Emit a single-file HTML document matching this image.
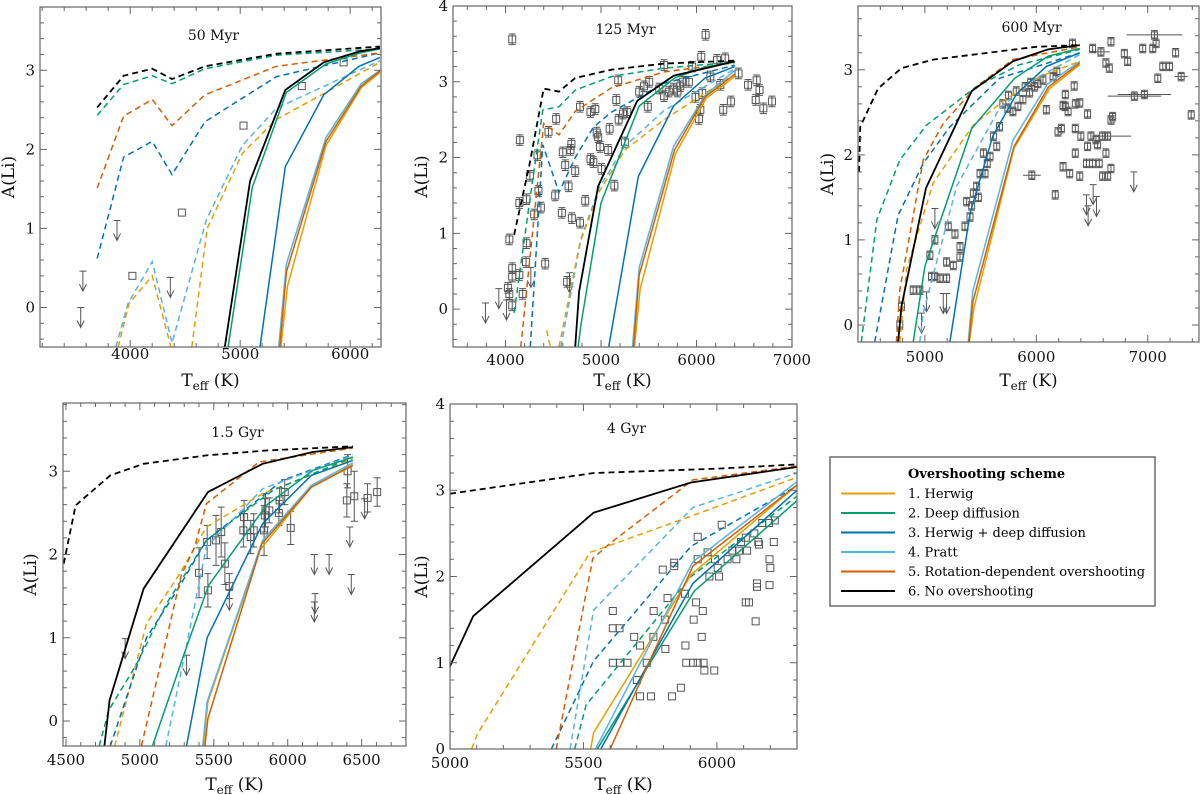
<!DOCTYPE html>
<html><head><meta charset="utf-8"><style>
html,body{margin:0;padding:0;background:#fff;}
svg{display:block;font-family:"DejaVu Serif","Liberation Serif",serif;}
</style></head><body>
<svg id="fig" width="1200" height="794" viewBox="0 0 1200 794" xmlns="http://www.w3.org/2000/svg">
<g id="panels"></g>
<g id="legend">
<rect x="830" y="457" width="325" height="149" fill="#fff" stroke="#555" stroke-width="1.3"/>
<text x="908" y="478" font-size="13" font-weight="bold">Overshooting scheme</text>
<g><line x1="841" y1="493.5" x2="895" y2="493.5" stroke="#E69F00" stroke-width="2"/><text x="908" y="498" font-size="13">1. Herwig</text></g>
<g><line x1="841" y1="513" x2="895" y2="513" stroke="#009E73" stroke-width="2"/><text x="908" y="517.5" font-size="13">2. Deep diffusion</text></g>
<g><line x1="841" y1="532.5" x2="895" y2="532.5" stroke="#0072B2" stroke-width="2"/><text x="908" y="537" font-size="13">3. Herwig + deep diffusion</text></g>
<g><line x1="841" y1="552" x2="895" y2="552" stroke="#56B4E9" stroke-width="2"/><text x="908" y="556.5" font-size="13">4. Pratt</text></g>
<g><line x1="841" y1="571.5" x2="895" y2="571.5" stroke="#D55E00" stroke-width="2"/><text x="908" y="576" font-size="13">5. Rotation-dependent overshooting</text></g>
<g><line x1="841" y1="591" x2="895" y2="591" stroke="#000" stroke-width="2"/><text x="908" y="595.5" font-size="13">6. No overshooting</text></g>
</g>
</svg>
<script>
const MODEL_NAMES = ['herwig','deep-diffusion','herwig-deep-diffusion','pratt','rotation-dependent','no-overshooting'];

// ---------- 50 Myr ----------
const P1_D1 = [[3890,-0.5],[3990,0.05],[4200,0.4],[4370,-0.5]];
const P1_D1b = [[4560,-0.5],[4700,1.0],[5020,1.95],[5330,2.38],[5780,2.72],[6270,3.1]];
const P1_D2 = [[3700,2.43],[3940,2.82],[4200,2.93],[4380,2.83],[4680,3.02],[5330,3.19],[6270,3.27]];
const P1_D3 = [[3700,0.62],[3940,1.9],[4200,2.1],[4380,1.68],[4680,2.35],[5330,2.92],[6270,3.22]];
const P1_D4 = [[3870,-0.5],[3980,0.05],[4200,0.58],[4380,-0.45],[4690,1.1],[5020,2.05],[5330,2.52],[6000,2.95],[6270,3.12]];
const P1_D5 = [[3700,1.51],[3940,2.42],[4200,2.63],[4380,2.3],[4680,2.69],[5330,3.05],[6270,3.22]];
const P1_D6 = [[3700,2.53],[3940,2.93],[4200,3.02],[4380,2.89],[4680,3.05],[5330,3.21],[6270,3.3]];
const P1_S1 = [[5370,-0.5],[5430,0.27],[5780,2.05],[6100,2.78],[6270,2.97]];
const P1_S2 = [[4890,-0.5],[5110,1.52],[5420,2.72],[5780,3.08],[6090,3.22],[6270,3.27]];
const P1_S3 = [[5180,-0.5],[5410,1.78],[5760,2.69],[6080,3.05],[6270,3.16]];
const P1_S4 = [[5350,-0.5],[5420,0.55],[5780,2.15],[6100,2.83],[6270,3.0]];
const P1_S5 = [[5360,-0.5],[5420,0.45],[5780,2.1],[6100,2.8],[6270,2.99]];
const P1_S6 = [[4860,-0.5],[5090,1.6],[5410,2.75],[5760,3.1],[6090,3.24],[6270,3.28]];
const P1_OBS = [[4020,0.4],[4470,1.2],[5030,2.3],[5560,2.8],[5940,3.1]];
const P1_LIM = [[3880,1.1],[3570,0.46],[3550,0.0],[4365,0.38]];

// ---------- 125 Myr ----------
const P2_D1 = [[4430,-0.28],[4470,-0.5]];
const P2_D1b = [[4560,-0.5],[4780,0.88],[4980,1.55],[5250,2.1],[5660,2.5],[6400,3.1]];
const P2_D2 = [[4090,-0.05],[4250,1.4],[4390,2.63],[4560,2.67],[4730,2.89],[5110,3.07],[5660,3.18],[6400,3.26]];
const P2_D3 = [[4260,-0.5],[4390,2.17],[4560,1.54],[4730,2.0],[4920,2.4],[5110,2.6],[5660,2.98],[6400,3.22]];
const P2_D4 = [[4580,-0.5],[4790,0.93],[4980,1.6],[5250,2.15],[5660,2.62],[6400,3.17]];
const P2_D5 = [[4160,-0.5],[4400,2.45],[4560,2.3],[4730,2.61],[5110,2.92],[5660,3.13],[6400,3.25]];
const P2_D6 = [[4090,0.98],[4250,1.9],[4400,2.91],[4560,2.87],[4730,3.05],[5110,3.16],[5660,3.24],[6400,3.28]];
const P2_S1 = [[5350,-0.5],[5410,0.27],[5780,2.05],[6100,2.78],[6400,3.07]];
const P2_S2 = [[4760,-0.5],[4790,-0.2],[5000,1.4],[5400,2.68],[5770,3.05],[6100,3.2],[6400,3.26]];
const P2_S3 = [[5080,-0.5],[5390,1.75],[5760,2.68],[6090,3.05],[6400,3.2]];
const P2_S4 = [[5330,-0.5],[5400,0.55],[5760,2.15],[6090,2.82],[6400,3.15]];
const P2_S5 = [[5340,-0.5],[5400,0.45],[5770,2.1],[6090,2.8],[6400,3.1]];
const P2_S6 = [[4730,-0.5],[4770,0.23],[4970,1.62],[5380,2.75],[5760,3.08],[6170,3.2],[6400,3.27]];
const P2_OBS = [[4070,3.56],[4150,2.23],[4040,0.92],[4070,0.54],[4070,0.43],[4145,0.45],[4025,0.28],[4040,0.2],[4070,0.05],[4180,0.2],[4215,0.62],[4220,0.87],[4145,1.4],[4220,1.45],[4300,1.25],[4370,1.34],[4255,1.76],[4335,2.03],[4345,1.56],[4415,0.6],[4450,2.34],[4530,2.51],[4520,1.5],[4590,1.27],[4600,2.07],[4625,1.9],[4680,2.1],[4690,2.18],[4660,1.62],[4695,1.2],[4780,1.14],[4780,2.67],[4730,1.82],[4835,1.43],[4890,2.6],[4940,2.64],[4890,1.98],[4920,1.94],[4955,2.33],[4970,2.27],[4990,2.14],[5005,1.85],[5075,2.1],[5090,2.38],[5140,1.63],[5160,2.76],[5180,3.02],[5185,2.5],[5230,2.58],[5275,2.6],[5250,2.2],[5400,2.87],[5450,2.94],[5490,2.67],[5505,3.0],[5610,2.91],[5660,3.22],[5660,2.81],[5710,2.87],[5760,2.91],[5800,2.87],[5830,2.94],[5860,3.0],[5920,3.0],[5955,3.2],[5990,2.8],[6025,2.51],[6040,2.63],[6050,3.33],[6095,3.62],[6060,2.85],[6145,3.07],[6215,3.29],[6250,2.96],[6280,2.63],[6300,3.31],[6360,2.74],[6440,3.11],[6540,2.96],[6630,3.02],[6620,2.76],[6660,2.89],[6700,2.65],[6790,2.74],[4645,0.36]];
const P2_LIM = [[3790,0.08],[3930,0.27],[4010,0.12],[4265,0.55],[4670,0.48]];

// ---------- 600 Myr ----------
const P3_D1 = [[4775,-0.2],[4835,0.65],[5075,1.67],[5435,2.35],[5700,2.63],[6030,2.92],[6390,3.1]];
const P3_D2 = [[4430,-0.2],[4570,1.24],[4775,1.94],[5015,2.35],[5460,2.8],[5850,3.06],[6390,3.24]];
const P3_D3 = [[4550,-0.2],[4760,1.29],[4985,1.9],[5225,2.33],[5670,2.9],[6390,3.2]];
const P3_D4 = [[4955,-0.2],[4985,0.14],[5285,1.63],[5670,2.55],[5970,2.88],[6390,3.18]];
const P3_D5 = [[4745,-0.2],[4775,0.41],[4985,1.94],[5165,2.37],[5460,2.8],[5790,3.12],[6390,3.27]];
const P3_D6 = [[4410,1.8],[4420,2.33],[4580,2.78],[4790,3.02],[5075,3.12],[6000,3.27],[6390,3.29]];
const P3_S1 = [[5400,-0.2],[5440,0.2],[5800,2.08],[6120,2.78],[6390,3.06]];
const P3_S2 = [[4895,-0.2],[5000,0.69],[5420,2.31],[5805,2.9],[6105,3.16],[6390,3.25]];
const P3_S3 = [[5225,-0.2],[5405,1.31],[5610,2.22],[5820,2.71],[6090,3.04],[6390,3.2]];
const P3_S4 = [[5390,-0.2],[5430,0.4],[5790,2.17],[6100,2.83],[6390,3.1]];
const P3_S5 = [[5395,-0.2],[5430,0.27],[5800,2.1],[6110,2.8],[6390,3.08]];
const P3_S6 = [[4760,-0.2],[4790,0.22],[5010,1.61],[5420,2.75],[5790,3.1],[6105,3.24],[6390,3.29]];
const P3_OBS = [[4775,0.0],[4790,0.22],[4895,0.41],[4955,0.41],[5060,0.57],[5090,0.57],[5135,0.55],[5195,0.55],[5045,0.82],[5090,1.0],[5195,0.74],[5255,0.7],[5210,1.16],[5270,1.07],[5315,0.92],[5315,0.8],[5360,1.16],[5375,1.45],[5405,1.27],[5435,1.55],[5465,1.63],[5495,1.78],[5540,1.78],[5525,2.02],[5585,1.98],[5615,2.22],[5645,2.1],[5670,2.33],[5745,2.55],[5790,2.51],[5835,2.57],[5880,2.65],[5940,2.73],[5985,2.8],[6015,2.84],[6060,2.88],[6150,2.92],[6090,2.53],[6185,2.98],[6325,3.31],[6505,3.25],[6580,3.21],[6625,3.08],[6655,3.02],[6670,3.33],[6790,3.19],[6820,3.1],[7060,3.41],[6955,3.25],[7045,3.25],[7075,3.31],[7135,3.04],[7195,3.04],[7300,2.92],[7250,3.2],[6880,2.69],[6970,2.71],[7090,2.9],[7390,2.47],[6340,2.81],[6260,2.71],[6240,2.58],[6260,2.57],[6350,2.6],[6390,2.61],[6460,2.48],[6285,2.51],[6685,2.45],[6670,2.41],[6225,2.31],[6195,2.27],[6350,2.31],[6400,2.22],[6490,2.22],[6535,2.18],[6595,2.22],[6640,2.22],[6460,2.1],[6550,2.12],[6350,2.02],[6625,2.02],[6240,1.86],[6300,1.78],[6450,1.9],[6505,1.9],[6565,1.9],[6390,1.75],[6595,1.75],[6640,1.75],[5960,1.76],[6170,1.53],[6670,1.84],[5700,2.6],[5750,2.7],[5820,2.75],[5900,2.8],[5950,2.85],[5560,1.9],[5480,1.5],[5420,1.4]];
const P3_XERR = [[7060,3.41,250],[6880,2.69,240],[6970,2.71,240],[7300,2.92,60],[5960,1.76,80],[6700,2.22,150],[6580,3.21,80]];
const P3_LIM = [[5090,1.37],[5015,0.39],[5165,0.37],[5195,0.37],[4970,0.14],[6450,1.53],[6510,1.65],[6540,1.51],[6465,1.4],[6875,1.8]];

// ---------- 1.5 Gyr ----------
const P4_D1 = [[4830,-0.3],[5045,1.17],[5270,1.77],[5450,2.33],[5830,2.73],[6440,3.15]];
const P4_D2 = [[4725,-0.3],[4790,0.13],[4980,0.69],[5180,1.41],[5450,2.17],[5900,2.77],[6440,3.17]];
const P4_D3 = [[4800,-0.3],[5045,1.0],[5265,1.61],[5450,2.17],[5965,2.89],[6440,3.2]];
const P4_D4 = [[5175,-0.3],[5300,0.77],[5450,2.09],[5830,2.79],[6440,3.19]];
const P4_D5 = [[5010,-0.3],[5280,1.75],[5370,2.09],[5450,2.61],[5805,3.11],[6440,3.28]];
const P4_D6 = [[4485,1.89],[4565,2.59],[4800,2.95],[5025,3.09],[5450,3.19],[5855,3.25],[6440,3.3]];
const P4_S1 = [[5430,-0.3],[5460,0.23],[5810,2.05],[6160,2.81],[6440,3.08]];
const P4_S2 = [[5085,-0.3],[5300,0.81],[5465,1.63],[5855,2.59],[6170,3.01],[6440,3.17]];
const P4_S3 = [[5315,-0.3],[5455,1.0],[5830,2.37],[6160,2.95],[6440,3.13]];
const P4_S4 = [[5425,-0.3],[5455,0.23],[5830,2.17],[6160,2.83],[6440,3.1]];
const P4_S5 = [[5440,-0.3],[5460,0.03],[5825,2.13],[6160,2.81],[6440,3.07]];
const P4_S6 = [[4760,-0.3],[4795,0.25],[5025,1.59],[5460,2.75],[5830,3.09],[6165,3.23],[6440,3.29]];
const P4_OBS = [[5400,1.78,0.3],[5460,1.57,0.2],[5455,2.15,0.2],[5515,2.17,0.3],[5550,2.27,0.3],[5575,1.89,0.25],[5605,1.62,0.15],[5705,2.45,0.2],[5700,2.29,0.2],[5750,2.21,0.2],[5770,2.29,0.2],[5840,2.29,0.3],[5845,2.47,0.2],[5850,2.53,0.2],[5875,2.53,0.15],[5945,2.65,0.15],[5940,2.5,0.15],[5980,2.75,0.15],[6020,2.32,0.2],[6405,3.0,0.2],[6400,2.65,0.2],[6450,2.7,0.3],[6540,2.68,0.17],[6605,2.75,0.17]];
const P4_LIM = [[4900,0.99],[5315,0.79],[5605,1.57],[6180,2.0],[6280,2.0],[6185,1.53],[6180,1.43],[6420,2.33],[6430,1.76],[6520,2.67]];

// ---------- 4 Gyr ----------
const P5_D1 = [[5081,0],[5102,0.17],[5525,2.28],[5885,2.68],[6300,3.15]];
const P5_D2 = [[5467,0],[5510,0.51],[5903,2.0],[6300,2.93]];
const P5_D3 = [[5380,0],[5538,1.02],[5903,2.35],[6300,3.05]];
const P5_D4 = [[5450,0],[5538,1.61],[5910,2.8],[6300,3.2]];
const P5_D5 = [[5398,0],[5535,2.21],[5598,2.38],[5910,3.12],[6300,3.28]];
const P5_D6 = [[5000,2.96],[5540,3.2],[6000,3.25],[6300,3.3]];
const P5_S1 = [[5527,0],[5538,0.19],[5903,2.02],[6300,3.06]];
const P5_S2 = [[5552,0],[5915,1.83],[6300,2.88]];
const P5_S3 = [[5565,0],[5910,1.92],[6300,3.0]];
const P5_S4 = [[5545,0],[5910,2.17],[6300,3.1]];
const P5_S5 = [[5600,0],[5710,0.76],[5910,2.12],[6300,3.06]];
const P5_S6 = [[5000,0.96],[5087,1.54],[5538,2.74],[5903,3.09],[6300,3.27]];
const P5_OBS = [[6018,2.6],[5928,2.46],[5610,1.6],[5610,1.4],[5635,1.4],[5690,1.3],[5712,1.2],[5763,1.6],[5762,1.3],[5797,2.08],[5840,2.16],[5840,2.12],[5815,1.75],[5805,1.5],[5807,1.16],[5880,1.8],[5922,1.7],[5913,1.5],[5882,1.2],[5947,1.6],[5943,1.3],[5610,1.0],[5637,1.0],[5665,1.0],[5737,1.0],[5885,1.0],[5910,1.0],[5928,1.0],[5950,1.0],[5953,0.91],[5990,0.91],[5700,0.8],[5712,0.61],[5753,0.61],[5832,0.61],[5865,0.71],[5928,2.2],[5965,2.28],[5993,2.2],[6040,2.2],[6073,2.2],[5972,2.0],[6008,2.0],[6003,2.1],[6083,2.3],[6113,2.3],[6108,2.45],[6140,2.5],[6155,2.4],[6170,2.62],[6195,2.62],[6217,2.65],[6158,2.37],[6213,2.4],[6197,2.2],[6200,2.1],[6150,1.88],[6150,1.92],[6197,1.9],[6108,1.7],[6120,1.7],[6145,1.48],[6058,2.3],[6090,2.4]];

// ---------- tick labels ----------
const P1_XTICKS = [4000,5000,6000];  const P1_YTICKS = [0,1,2,3];
const P2_XTICKS = [4000,5000,6000,7000]; const P2_YTICKS = [0,1,2,3,4];
const P3_XTICKS = [5000,6000,7000];  const P3_YTICKS = [0,1,2,3];
const P4_XTICKS = [4500,5000,5500,6000,6500]; const P4_YTICKS = [0,1,2,3];
const P5_XTICKS = [5000,5500,6000];  const P5_YTICKS = [0,1,2,3,4];

const COLORS = ['#E69F00','#009E73','#0072B2','#56B4E9','#D55E00','#000000'];
const NS = 'http://www.w3.org/2000/svg';
const root = document.getElementById('panels');

function mk(tag, attrs, parent){
  const e = document.createElementNS(NS, tag);
  for (const k in attrs) e.setAttribute(k, attrs[k]);
  if (parent) parent.appendChild(e);
  return e;
}

const PANELS = [
 {id:'50myr', title:'50 Myr', box:[40,7,381,347], xr:[3180,6280], yr:[-0.5,3.8], xt:P1_XTICKS, yt:P1_YTICKS, xmin:200, ymin:0.2, tY:40, xlY:359, xtY:386, ylX:14,
  dashed:[P1_D1,P1_D2,P1_D3,P1_D4,P1_D5,P1_D6], extra:[[0,P1_D1b]], solid:[P1_S1,P1_S2,P1_S3,P1_S4,P1_S5,P1_S6], obs:P1_OBS, lim:P1_LIM, err:0, sq:7},
 {id:'125myr', title:'125 Myr', box:[453,6,792,347], xr:[3450,7000], yr:[-0.5,4], xt:P2_XTICKS, yt:P2_YTICKS, xmin:200, ymin:0.2, tY:34, xlY:365, xtY:386, ylX:427,
  dashed:[P2_D1,P2_D2,P2_D3,P2_D4,P2_D5,P2_D6], extra:[[0,P2_D1b]], solid:[P2_S1,P2_S2,P2_S3,P2_S4,P2_S5,P2_S6], obs:P2_OBS, lim:P2_LIM, err:0.07, sq:7},
 {id:'600myr', title:'600 Myr', box:[858,6,1199,342], xr:[4400,7460], yr:[-0.2,3.75], xt:P3_XTICKS, yt:P3_YTICKS, xmin:200, ymin:0.2, tY:32, xlY:362, xtY:386, ylX:833,
  dashed:[P3_D1,P3_D2,P3_D3,P3_D4,P3_D5,P3_D6], extra:[], solid:[P3_S1,P3_S2,P3_S3,P3_S4,P3_S5,P3_S6], obs:P3_OBS, lim:P3_LIM, err:0.05, sq:6, xerr:P3_XERR},
 {id:'1p5gyr', title:'1.5 Gyr', box:[63,403,406,746], xr:[4480,6800], yr:[-0.3,3.82], xt:P4_XTICKS, yt:P4_YTICKS, xmin:100, ymin:0.2, tY:437, xlY:765, xtY:790, ylX:36,
  dashed:[P4_D1,P4_D2,P4_D3,P4_D4,P4_D5,P4_D6], extra:[], solid:[P4_S1,P4_S2,P4_S3,P4_S4,P4_S5,P4_S6], obs:P4_OBS, lim:P4_LIM, err:-1, sq:7},
 {id:'4gyr', title:'4 Gyr', box:[450,404,797,749], xr:[5000,6300], yr:[0,4], xt:P5_XTICKS, yt:P5_YTICKS, xmin:100, ymin:0.2, tY:433, xlY:768, xtY:790, ylX:427,
  dashed:[P5_D1,P5_D2,P5_D3,P5_D4,P5_D5,P5_D6], extra:[], solid:[P5_S1,P5_S2,P5_S3,P5_S4,P5_S5,P5_S6], obs:P5_OBS, lim:[], err:0, sq:7}
];

PANELS.forEach(function(p){
  const [L,T,R,B] = p.box;
  const X = v => L + (v - p.xr[0]) / (p.xr[1] - p.xr[0]) * (R - L);
  const Y = v => B - (v - p.yr[0]) / (p.yr[1] - p.yr[0]) * (B - T);
  const g = mk('g', {}, root);
  
  
  const cp = mk('clipPath', {id:'clip-' + p.id}, g);
  mk('rect', {x:L, y:T, width:R-L, height:B-T}, cp);
  const plot = mk('g', {'clip-path':'url(#clip-' + p.id + ')'}, g);

  const og = mk('g', {stroke:'#555', 'stroke-width':1, fill:'none'}, plot);
  
  
  if (p.xerr) p.xerr.forEach(function(d){
    const e = mk('line', {x1:X(d[0]-d[2]), x2:X(d[0]+d[2]), y1:Y(d[1]), y2:Y(d[1])}, og);
    
    
  });
  p.obs.forEach(function(d){
    const x = X(d[0]), y = Y(d[1]), s = p.sq;
    const ev = p.err < 0 ? d[2] : p.err;
    if (ev > 0) {
      const y1 = Y(d[1] + ev), y2 = Y(d[1] - ev);
      const eb = mk('path', {d:'M'+x+' '+y1+'V'+y2+'M'+(x-3.5)+' '+y1+'h7M'+(x-3.5)+' '+y2+'h7'}, og);
      
      
    }
    const r = mk('rect', {x:x-s/2, y:y-s/2, width:s, height:s}, og);
    
    
  });
  p.lim.forEach(function(d){
    const x = X(d[0]), y = Y(d[1]);
    const a = mk('path', {d:'M'+(x-3.5)+' '+y+'h7M'+x+' '+y+'v20M'+(x-3.5)+' '+(y+13)+'L'+x+' '+(y+20)+'L'+(x+3.5)+' '+(y+13)}, og);
    
    
  });

  function drawLine(arr, ci, dashed){
    const d = arr.map((pt,i)=> (i?'L':'M') + X(pt[0]).toFixed(1) + ' ' + Y(pt[1]).toFixed(1)).join('');
    const ln = mk('path', {d:d, fill:'none', stroke:COLORS[ci], 'stroke-width': ci===5 ? 1.8 : 1.5, 'stroke-dasharray': dashed ? '6,4' : 'none'}, plot);
    
    
  }
  p.dashed.forEach((arr,i)=>drawLine(arr,i,true));
  p.extra.forEach(e=>drawLine(e[1],e[0],true));
  p.solid.forEach((arr,i)=>drawLine(arr,i,false));

  const fr = mk('rect', {x:L, y:T, width:R-L, height:B-T, fill:'none', stroke:'#666', 'stroke-width':1.2}, g);
  
  
  let td = '';
  const x0 = Math.ceil(p.xr[0]/p.xmin)*p.xmin;
  for (let v = x0; v <= p.xr[1]; v += p.xmin) {
    const x = X(v); const major = p.xt.indexOf(v) >= 0; const len = major ? 7 : 4;
    td += 'M'+x+' '+B+'v-'+len+'M'+x+' '+T+'v'+len;
  }
  const y0 = Math.ceil(p.yr[0]/p.ymin - 1e-9)*p.ymin;
  for (let k = 0; y0 + k*p.ymin <= p.yr[1] + 1e-9; k++) {
    const v = +(y0 + k*p.ymin).toFixed(3); const y = Y(v);
    const major = p.yt.indexOf(v) >= 0; const len = major ? 7 : 4;
    td += 'M'+L+' '+y+'h'+len+'M'+R+' '+y+'h-'+len;
  }
  const tk = mk('path', {d:td, stroke:'#666', 'stroke-width':1, fill:'none'}, g);
  
  
  p.xt.forEach(function(v){
    const t = mk('text', {x:X(v), y:p.xlY, 'font-size':15, 'text-anchor':'middle', fill:'#111'}, g);
    t.textContent = v;
    
    
  });
  p.yt.forEach(function(v){
    const t = mk('text', {x:L-5, y:Y(v)+5, 'font-size':15, 'text-anchor':'end', fill:'#111'}, g);
    t.textContent = v;
    
    
  });
  const ttl = mk('text', {x:(L+R)/2+3, y:p.tY, 'font-size':14, 'text-anchor':'middle', fill:'#111'}, g);
  ttl.textContent = p.title;
  
  
  const xl = mk('text', {x:(L+R)/2, y:p.xtY, 'font-size':17, 'text-anchor':'middle', fill:'#111'}, g);
  xl.innerHTML = 'T<tspan font-size="12" dy="4">eff</tspan><tspan dy="-4"> (K)</tspan>';
  
  
  const yc = (T+B)/2;
  const yl = mk('text', {x:p.ylX, y:yc, 'font-size':17, 'text-anchor':'middle', fill:'#111', transform:'rotate(-90 '+p.ylX+' '+yc+')'}, g);
  yl.textContent = 'A(Li)';
  
  
});
</script>
</body></html>
